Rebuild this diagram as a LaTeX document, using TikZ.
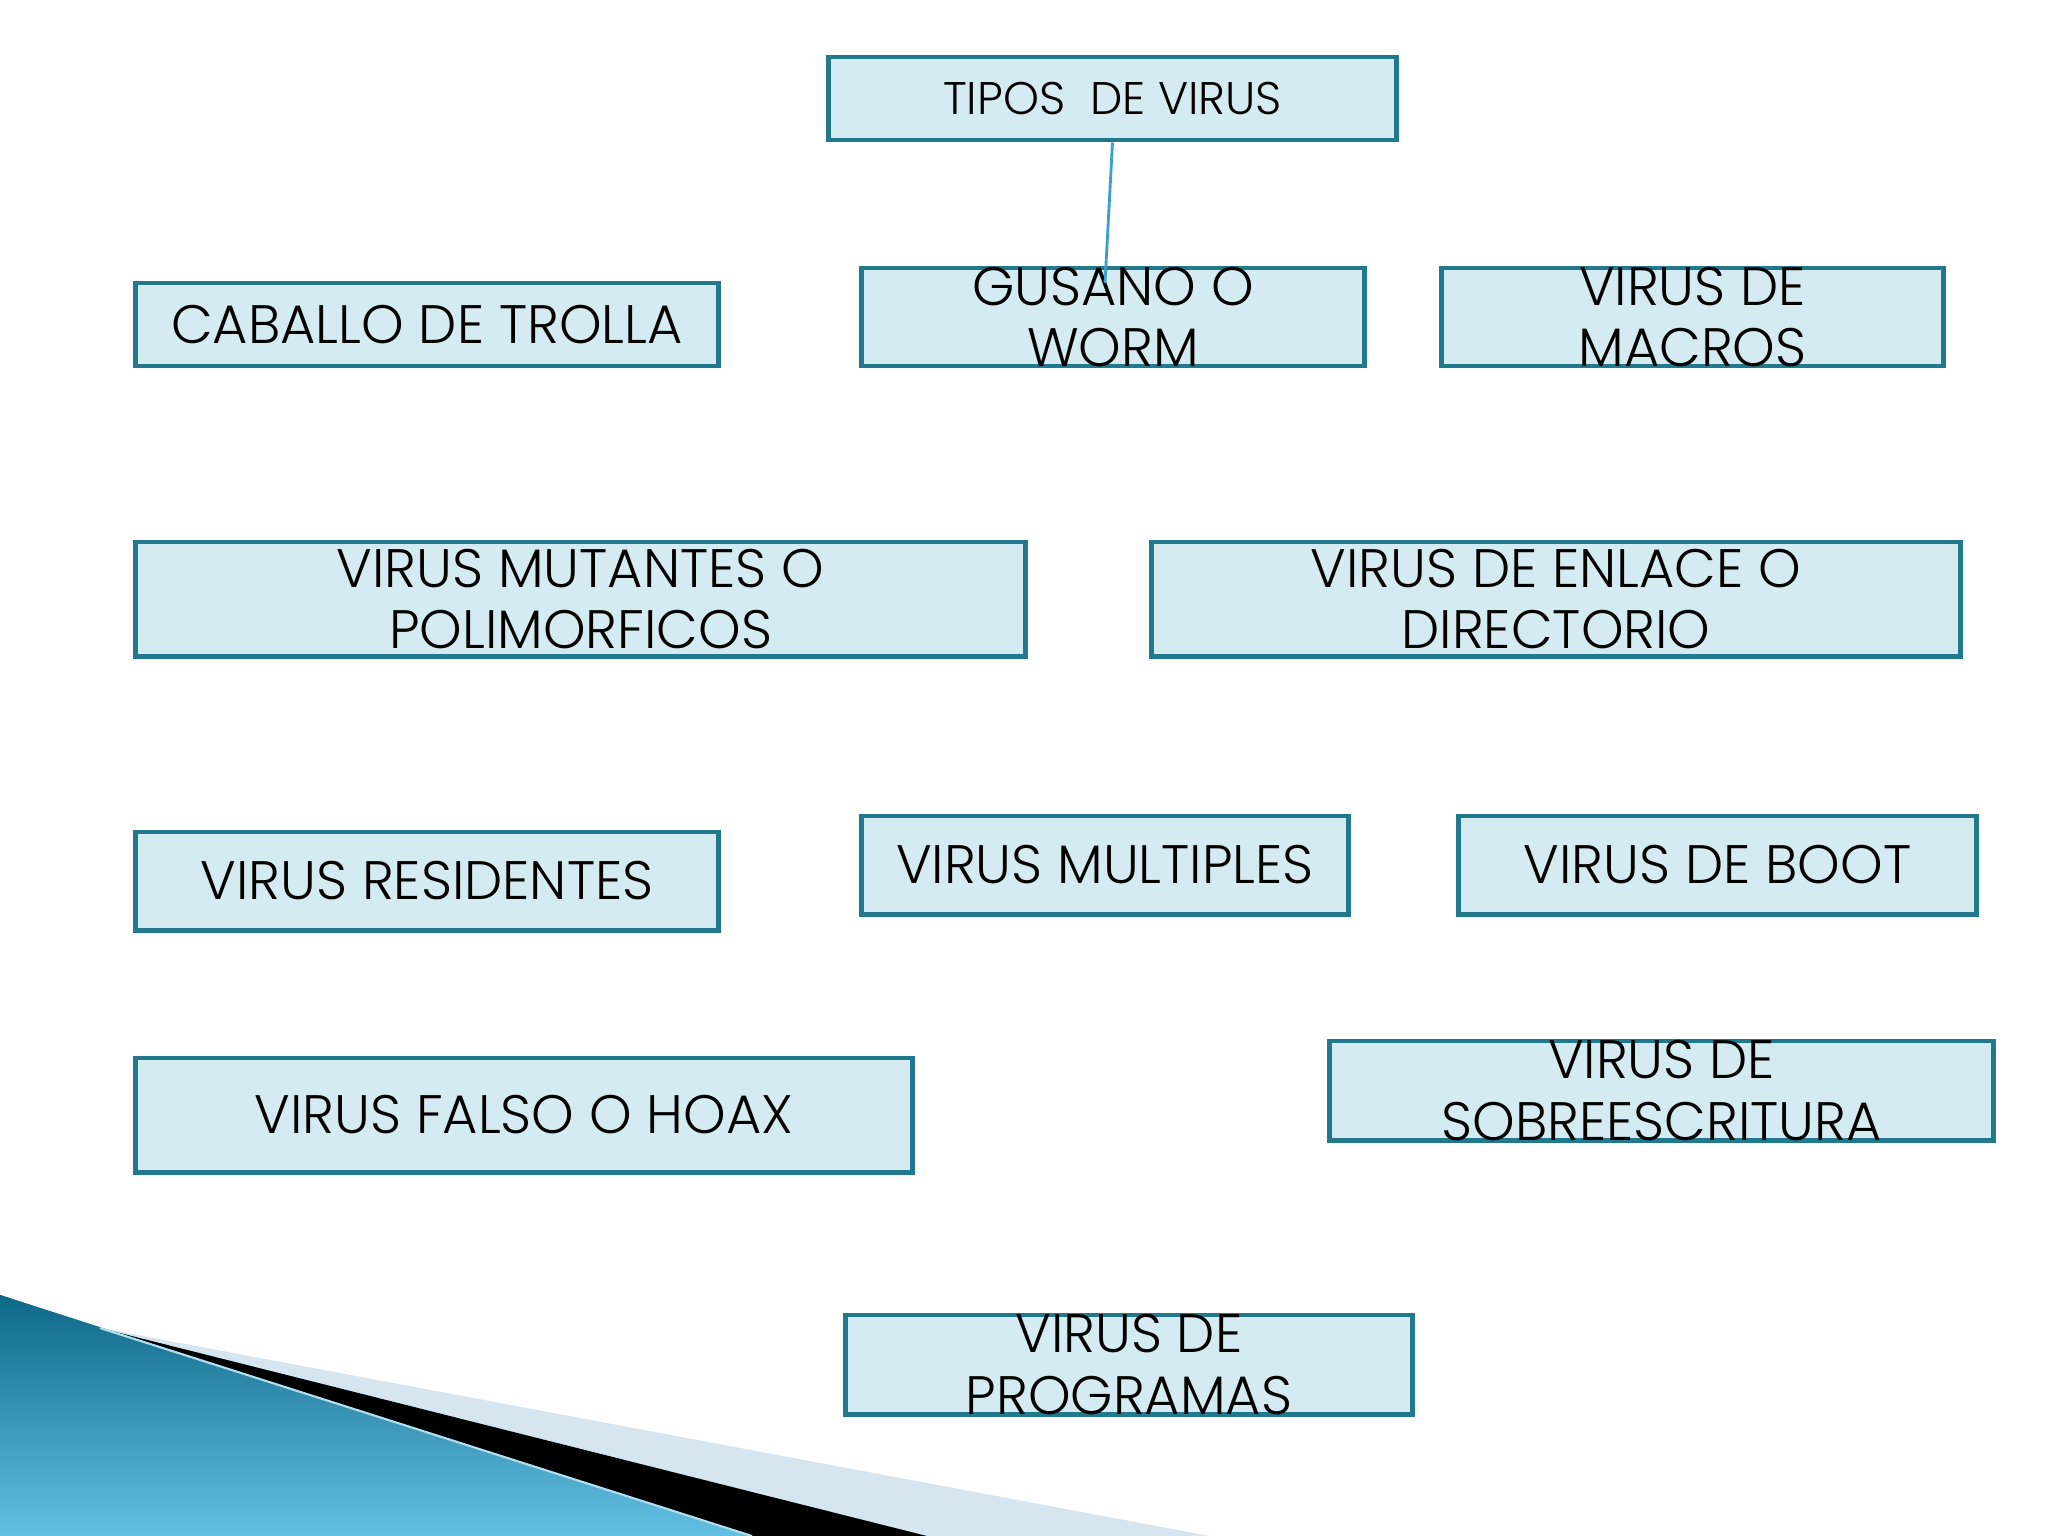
\documentclass[tikz,border=0pt]{standalone}
\usepackage{fontspec}
\setmainfont{Poppins}[UprightFont=* Light]
\definecolor{boxfill}{RGB}{212,235,242}
\definecolor{boxline}{RGB}{34,120,140}
\definecolor{linkblue}{RGB}{58,160,205}
\definecolor{swdark}{RGB}{14,104,136}
\definecolor{swlight}{RGB}{100,192,226}
\definecolor{swpale}{RGB}{214,230,240}

\begin{document}
\begin{tikzpicture}[
    x=0.01cm, y=-0.01cm,
    vbox/.style={draw=boxline, fill=boxfill, line width=1.4pt, inner sep=0pt,
                 font=\fontsize{15.4}{17.4}\selectfont},
    twoline/.style={align=center, inner sep=0pt, font=\fontsize{15.4}{17.4}\selectfont},
    link/.style={draw=linkblue, line width=0.8pt}
]
    \useasboundingbox (0,0) rectangle (2048,1536);

    % swoosh in the lower left corner
    \fill[swpale] (0,1295) -- (100,1328) -- (1210,1536) -- (0,1536) -- cycle;
    \fill[black] (0,1295) -- (100,1328) -- (927,1536) -- (0,1536) -- cycle;
    \shade[shading=axis, shading angle=45, top color=swdark, bottom color=swlight]
        (0,1295) -- (752,1536) -- (0,1536) -- cycle;
    \draw[swlight!50!white, line width=0.6pt] (100,1328) -- (752,1536);

    % title
    \node[vbox, minimum width=5.67cm, minimum height=0.83cm,
          font=\fontsize{13}{16}\selectfont] (tipos) at (1112.5,98.5) {TIPOS\ \ DE VIRUS};

    % first row
    \node[vbox, minimum width=5.82cm, minimum height=0.83cm] (caballo) at (427,324.5) {CABALLO DE TROLLA};
    \node[vbox, minimum width=5.02cm, minimum height=0.98cm,
          label={[twoline]center:GUSANO O\\WORM}] (gusano) at (1113,317) {};
    \node[vbox, minimum width=5.01cm, minimum height=0.98cm,
          label={[twoline]center:VIRUS DE\\MACROS}] (macros) at (1692.5,317) {};

    % second row
    \node[vbox, minimum width=8.89cm, minimum height=1.14cm,
          label={[twoline]center:VIRUS MUTANTES O\\POLIMORFICOS}] (mutantes) at (580.5,599) {};
    \node[vbox, minimum width=8.08cm, minimum height=1.14cm,
          label={[twoline]center:VIRUS DE ENLACE O\\DIRECTORIO}] (enlace) at (1556,599) {};

    % third row
    \node[vbox, minimum width=5.82cm, minimum height=0.98cm] (residentes) at (427,881) {VIRUS RESIDENTES};
    \node[vbox, minimum width=4.86cm, minimum height=0.98cm] (multiples) at (1105,865) {VIRUS MULTIPLES};
    \node[vbox, minimum width=5.17cm, minimum height=0.98cm] (boot) at (1717.5,865) {VIRUS DE BOOT};

    % fourth row
    \node[vbox, minimum width=7.76cm, minimum height=1.14cm] (falso) at (524,1115) {VIRUS FALSO O HOAX};
    \node[vbox, minimum width=6.63cm, minimum height=0.99cm,
          label={[twoline]center:VIRUS DE\\SOBREESCRITURA}] (sobre) at (1661.5,1090.5) {};

    % last one
    \node[vbox, minimum width=5.66cm, minimum height=0.99cm,
          label={[twoline]center:VIRUS DE\\PROGRAMAS}] (programas) at (1129,1364.5) {};

    % the only connector
    \coordinate (wormtip) at (1105,283);
    \draw[link] (tipos.south) -- (wormtip);
\end{tikzpicture}
\end{document}
